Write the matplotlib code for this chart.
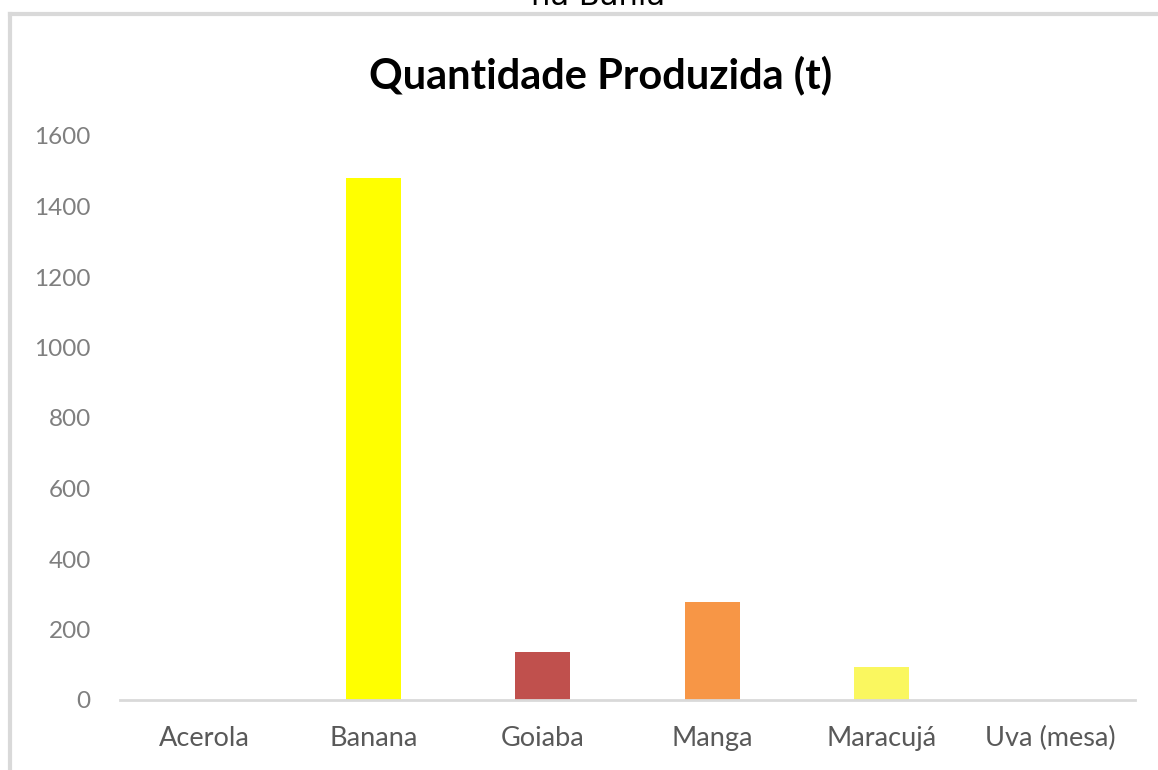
import matplotlib
matplotlib.use("Agg")
import matplotlib.pyplot as plt
from matplotlib.lines import Line2D

categories = ["Acerola", "Banana", "Goiaba", "Manga", "Maracujá", "Uva (mesa)"]
values = [0, 1481, 136, 279, 94, 0]
colors = ["#4F81BD", "#FFFF00", "#C0504D", "#F79646", "#FAF75F", "#9BBB59"]
yticks = [0, 200, 400, 600, 800, 1000, 1200, 1400, 1600]
title = "Quantidade Produzida (t)"
top_text = "na Bahia"

W, H = 1158, 770
fig = plt.figure(figsize=(W / 100, H / 100), dpi=100)
fig.patch.set_facecolor("white")

ax = fig.add_axes([120 / W, 1 - 700 / H, (1135 - 120) / W, (700 - 136) / H])
x = list(range(len(categories)))
ax.bar(x, values, width=0.325, color=colors, zorder=3)
ax.set_xlim(-0.5, len(categories) - 0.5)
ax.set_ylim(0, 1600)
ax.set_yticks(yticks)
ax.set_yticklabels([str(v) for v in yticks], fontsize=17.5, color="#7f7f7f",
                   fontfamily="Lato")
ax.set_xticks(x)
ax.set_xticklabels(categories, fontsize=19.5, color="#595959", fontfamily="Lato")
ax.tick_params(axis="both", length=0)
ax.tick_params(axis="y", pad=21)
ax.tick_params(axis="x", pad=19)
for s in ["top", "right", "left"]:
    ax.spines[s].set_visible(False)
ax.spines["bottom"].set_color("#d9d9d9")
ax.spines["bottom"].set_linewidth(2)
ax.spines["bottom"].set_zorder(4)
ax.set_facecolor("none")

fig.text(601 / W, 1 - 75 / H, title, ha="center", va="center", fontsize=30,
         fontweight="bold", fontfamily="Lato", color="black")
fig.text(598 / W, 1 - 5 / H, top_text, ha="center", va="baseline", fontsize=22,
         fontfamily="DejaVu Sans", color="black")

# frame border (screenshot box)
fig.add_artist(Line2D([10 / W, 1.0], [1 - 14 / H, 1 - 14 / H], color="#d9d9d9", lw=3,
                      transform=fig.transFigure))
fig.add_artist(Line2D([10 / W, 10 / W], [0.0, 1 - 14 / H], color="#d9d9d9", lw=3,
                      transform=fig.transFigure))

fig.savefig("out.png", dpi=100, facecolor="white")
